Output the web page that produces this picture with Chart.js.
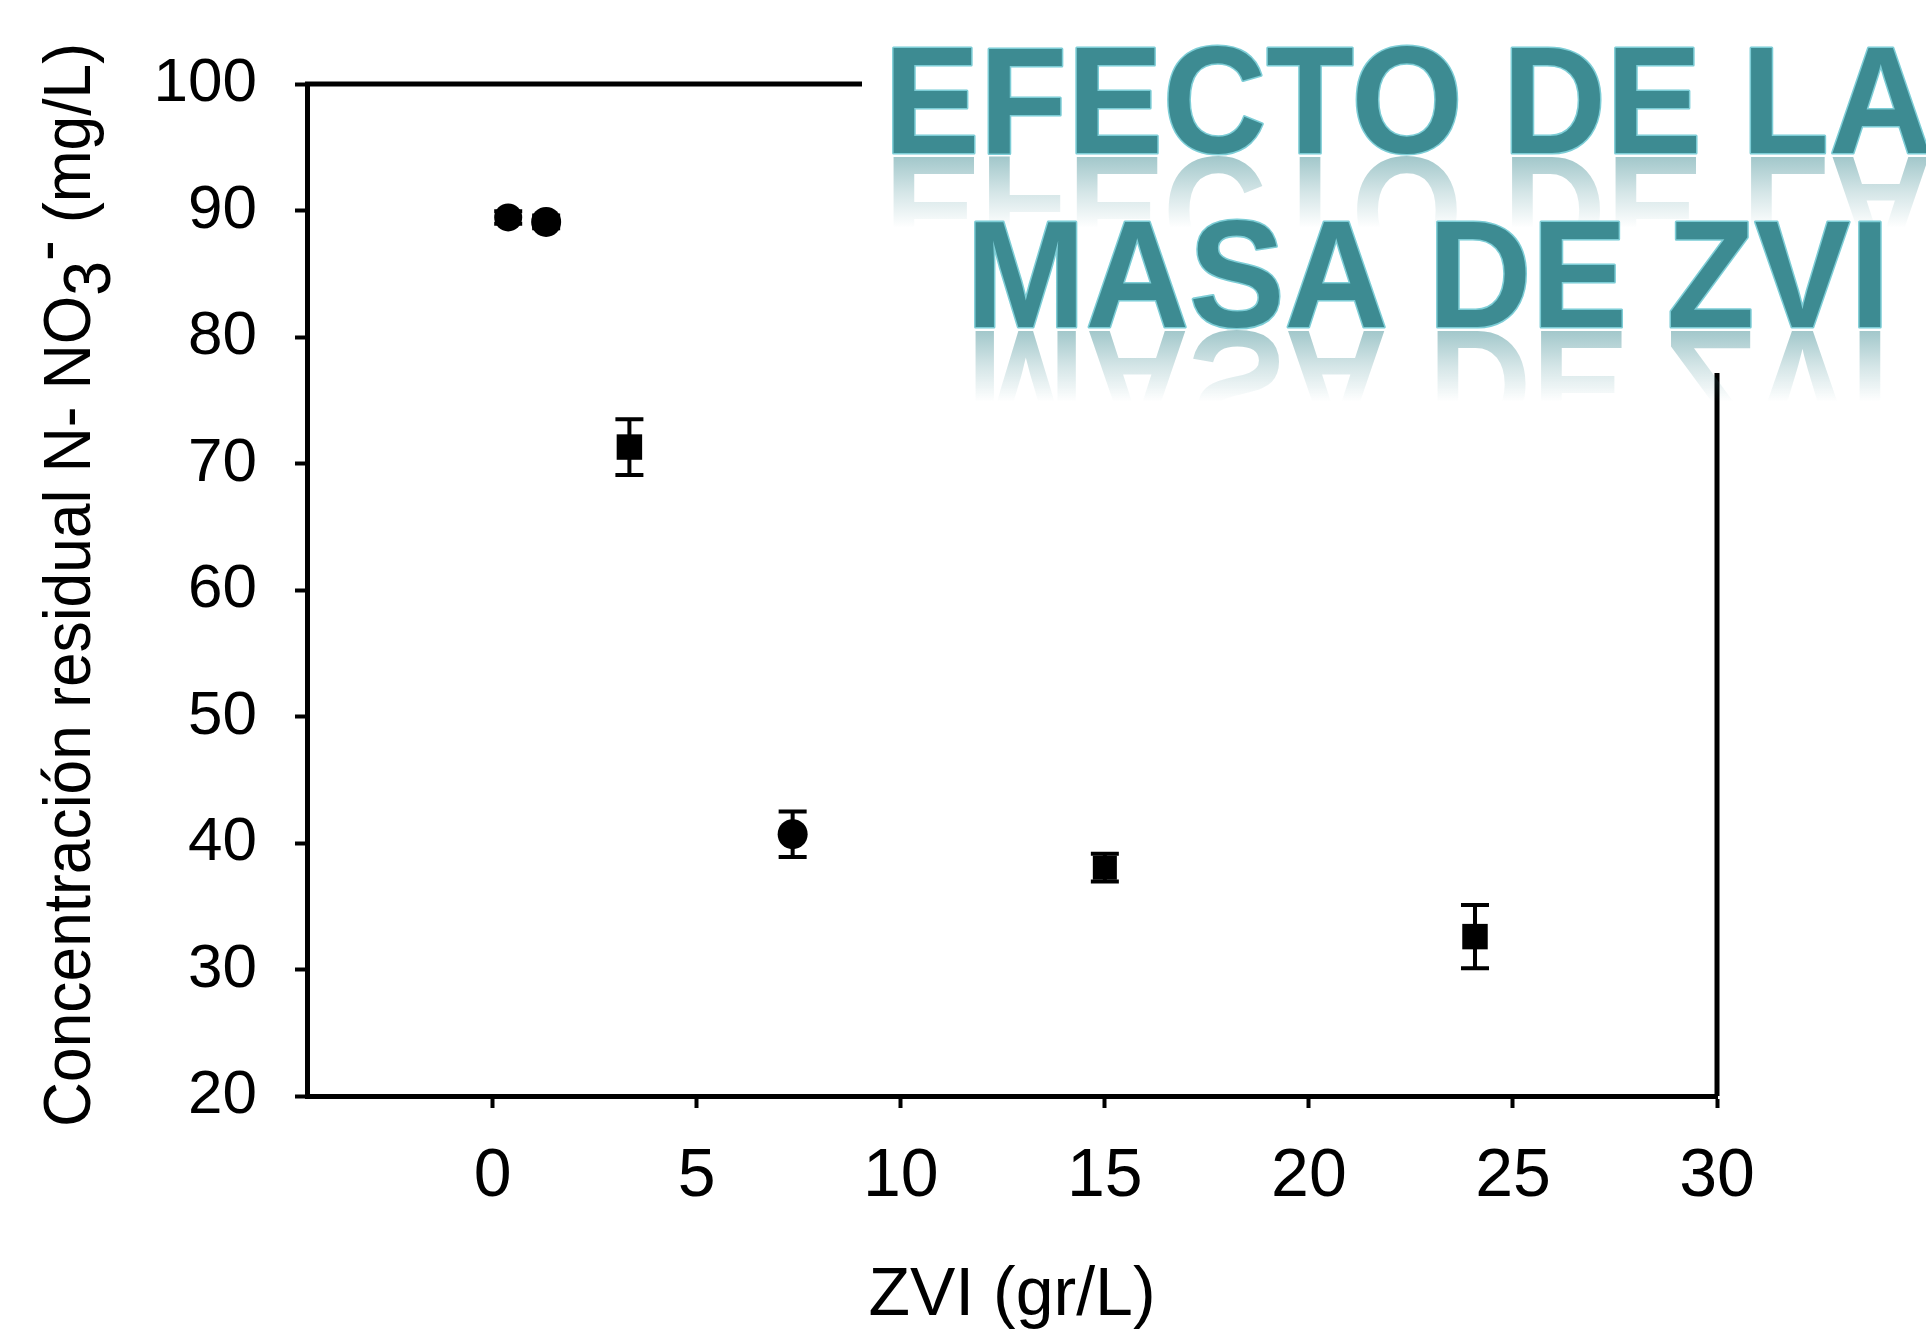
<!DOCTYPE html>
<html><head><meta charset="utf-8">
<script src="https://cdn.jsdelivr.net/npm/chart.js@4.4.0/dist/chart.umd.min.js"></script>
<style>html,body{margin:0;padding:0;background:#fff;}canvas{display:block;}</style>
</head><body>
<canvas id="c" width="1926" height="1331"></canvas>
<script>
// ---- data ----
const zviDose     = [0.38, 1.31, 3.35, 7.35, 15.0, 24.07];   // ZVI (gr/L)
const residualN   = [89.45, 89.1, 71.3, 40.7, 38.05, 32.6];  // mg/L
const residualErr = [0.5, 0.5, 2.2, 1.8, 1.1, 2.5];          // +/- error
const xTickValues = [0, 5, 10, 15, 20, 25, 30];
const yTickValues = [20, 30, 40, 50, 60, 70, 80, 90, 100];
const titleLines  = ['EFECTO DE LA', 'MASA DE ZVI'];
const xTitle      = 'ZVI (gr/L)';
const yTitleParts = ['Concentración residual N- NO', '3', '-', ' (mg/L)'];

const FONT = "'Liberation Sans', Arial, sans-serif";
const TEAL = 'rgb(61,139,146)';

function drawBigTitle(ctx) {
  const lines = [
    { text: titleLines[0], left: 893, base: 153 },
    { text: titleLines[1], left: 975, base: 327 }
  ];
  ctx.font = `bold 100px ${FONT}`;
  const m = ctx.measureText(titleLines[1]);
  const ink100 = m.actualBoundingBoxLeft + m.actualBoundingBoxRight;
  const size = 100 * 907 / ink100;
  ctx.font = `bold ${size}px ${FONT}`;
  const capAsc = ctx.measureText('E').actualBoundingBoxAscent;
  const sy = 104 / capAsc;
  lines.forEach(L => {
    const mm = ctx.measureText(L.text);
    const x = L.left + mm.actualBoundingBoxLeft;
    ctx.textAlign = 'left';
    ctx.textBaseline = 'alphabetic';
    // reflection
    ctx.save();
    ctx.translate(x, L.base + 4);
    ctx.scale(1, -sy);
    const g = ctx.createLinearGradient(0, 0, 0, -capAsc * 0.68);
    g.addColorStop(0, 'rgba(61,139,146,0.48)');
    g.addColorStop(0.5, 'rgba(61,139,146,0.22)');
    g.addColorStop(1, 'rgba(61,139,146,0)');
    ctx.fillStyle = g;
    ctx.fillText(L.text, 0, 0);
    ctx.restore();
    // main text
    ctx.save();
    ctx.translate(x, L.base);
    ctx.scale(1, sy);
    ctx.lineJoin = 'round';
    ctx.strokeStyle = 'rgb(125,205,214)';
    ctx.lineWidth = 3;
    ctx.strokeText(L.text, 0, 0);
    ctx.fillStyle = TEAL;
    ctx.fillText(L.text, 0, 0);
    ctx.restore();
  });
}

function drawYTitle(ctx, a) {
  ctx.save();
  ctx.font = `67px ${FONT}`;
  ctx.fillStyle = '#000';
  ctx.textBaseline = 'alphabetic';
  ctx.textAlign = 'left';
  const shifts = [0, 20, -22, 0];
  const widths = yTitleParts.map(t => ctx.measureText(t).width);
  const total = widths.reduce((s, w) => s + w, 0);
  const k = 1084 / total;
  ctx.translate(90, 585);
  ctx.rotate(-Math.PI / 2);
  ctx.scale(k, 1);
  let pos = -total / 2;
  yTitleParts.forEach((t, i) => {
    ctx.fillText(t, pos, shifts[i]);
    pos += widths[i];
  });
  ctx.restore();
}

const decor = {
  id: 'decor',
  beforeDatasetsDraw(chart) {
    const { ctx, scales: { x, y } } = chart;
    ctx.save();
    ctx.strokeStyle = '#000';
    ctx.lineWidth = 4;
    zviDose.forEach((xv, i) => {
      const px = x.getPixelForValue(xv);
      const pt = y.getPixelForValue(residualN[i] + residualErr[i]);
      const pb = y.getPixelForValue(residualN[i] - residualErr[i]);
      ctx.beginPath();
      ctx.moveTo(px, pt); ctx.lineTo(px, pb);
      ctx.moveTo(px - 14, pt); ctx.lineTo(px + 14, pt);
      ctx.moveTo(px - 14, pb); ctx.lineTo(px + 14, pb);
      ctx.stroke();
    });
    ctx.restore();
  },
  afterDraw(chart) {
    const { ctx, chartArea: a } = chart;
    ctx.save();
    ctx.strokeStyle = '#000';
    ctx.lineWidth = 5;
    ctx.beginPath();
    ctx.moveTo(a.left - 2, a.top);
    ctx.lineTo(a.right, a.top);
    ctx.lineTo(a.right, a.bottom);
    ctx.stroke();
    // white panel behind title
    ctx.fillStyle = '#fff';
    ctx.fillRect(862, 0, 1926 - 862, 373);
    drawBigTitle(ctx);
    // x title
    ctx.font = `68px ${FONT}`;
    ctx.fillStyle = '#000';
    ctx.textAlign = 'center';
    ctx.textBaseline = 'alphabetic';
    ctx.fillText(xTitle, (a.left + a.right) / 2, 1315);
    ctx.restore();
    drawYTitle(ctx, a);
  }
};

new Chart(document.getElementById('c'), {
  type: 'scatter',
  data: {
    datasets: [{
      data: zviDose.map((xv, i) => ({ x: xv, y: residualN[i] })),
      pointStyle: ['circle', 'circle', 'rect', 'circle', 'rect', 'rect'],
      pointRadius: [14, 15, 18, 15, 17, 18],
      pointBackgroundColor: '#000',
      pointBorderColor: '#000',
      pointBorderWidth: 0,
      showLine: false
    }]
  },
  options: {
    responsive: false,
    animation: false,
    events: [],
    layout: { padding: { left: 0, top: 84, right: 209, bottom: 0 } },
    plugins: { legend: { display: false }, tooltip: { enabled: false }, title: { display: false } },
    scales: {
      x: {
        type: 'linear', min: -4.55, max: 30,
        afterBuildTicks: s => { s.ticks = xTickValues.map(v => ({ value: v })); },
        afterFit: s => { s.height = 1331 - 1096; },
        ticks: { color: '#000', font: { family: FONT, size: 68 }, padding: 28, maxRotation: 0, autoSkip: false },
        grid: { display: true, drawOnChartArea: false, drawTicks: true, tickLength: 12, tickWidth: 4, tickColor: '#000', color: '#000' },
        border: { display: true, color: '#000', width: 5 }
      },
      y: {
        type: 'linear', min: 20, max: 100,
        afterBuildTicks: s => { s.ticks = yTickValues.map(v => ({ value: v })); },
        afterFit: s => { s.width = 307; },
        ticks: { color: '#000', font: { family: FONT, size: 62 }, padding: 38, autoSkip: false },
        grid: { display: true, drawOnChartArea: false, drawTicks: true, tickLength: 12, tickWidth: 4, tickColor: '#000', color: '#000' },
        border: { display: true, color: '#000', width: 5 }
      }
    }
  },
  plugins: [decor]
});
</script>
</body></html>
